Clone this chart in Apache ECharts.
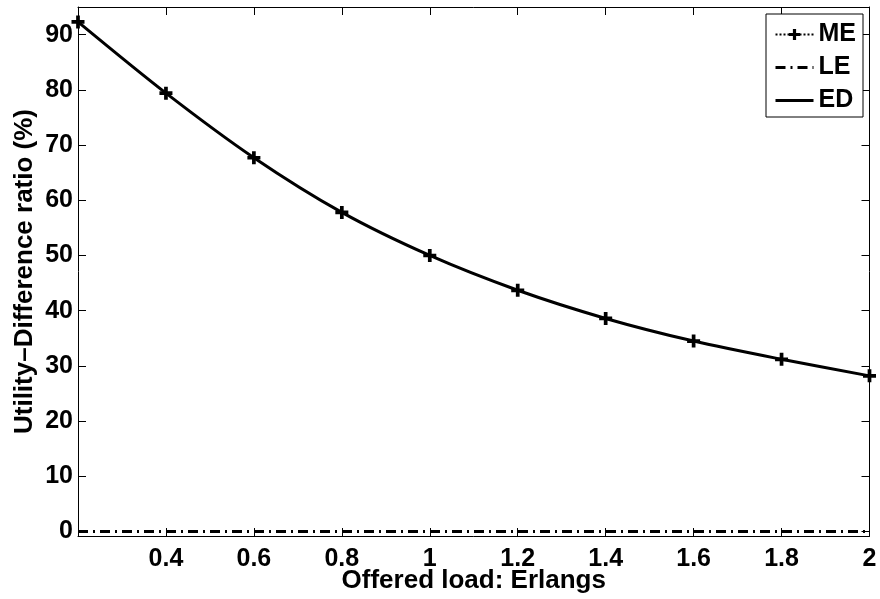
<!DOCTYPE html>
<html>
<head>
<meta charset="utf-8">
<title>Utility-Difference ratio vs offered load</title>
<script src="https://cdn.jsdelivr.net/npm/echarts@6/dist/echarts.min.js"></script>
<style>
  html, body { margin: 0; padding: 0; background: #fff; }
  #chart { width: 880px; height: 599px; }
</style>
</head>
<body>
<div id="chart"></div>
<script>
// Offered load (Erlangs)
const loads = [0.2, 0.4, 0.6, 0.8, 1.0, 1.2, 1.4, 1.6, 1.8, 2.0];
// Utility-difference ratio (%) per scheme
const meValues = [92.3, 79.4, 67.7, 57.8, 50.0, 43.7, 38.6, 34.5, 31.2, 28.2];
const leValues = [0, 0, 0, 0, 0, 0, 0, 0, 0, 0];
const edValues = [92.3, 79.4, 67.7, 57.8, 50.0, 43.7, 38.6, 34.5, 31.2, 28.2];
// Tick positions and labels
const xTickLabels = [0.4, 0.6, 0.8, 1.0, 1.2, 1.4, 1.6, 1.8, 2.0];
const xTickMarks = [0.4, 0.6, 0.8, 1.0, 1.2, 1.4, 1.6, 1.8];
const yTickLabels = [0, 10, 20, 30, 40, 50, 60, 70, 80, 90];

const FONT = "'Liberation Sans', Arial, Helvetica, sans-serif";
const plusPath = 'path://M5,0H9V5H14V9H9V14H5V9H0V5H5Z';

const pairs = ys => loads.map((x, i) => [x, ys[i]]);
const fmtX = v => String(+(+v).toFixed(1));

const chart = echarts.init(document.getElementById('chart'), null, { renderer: 'canvas' });

const boxAxis = { lineStyle: { color: '#000', width: 1 } };
const innerTick = { inside: true, length: 8, lineStyle: { color: '#000', width: 1 } };
// legend entries drawn as thick line samples only (no dot in the middle)
const lineOnly = { itemStyle: { opacity: 0, borderWidth: 0 }, lineStyle: { width: 3 } };

chart.setOption({
  animation: false,
  backgroundColor: '#fff',
  textStyle: { fontFamily: FONT },
  grid: {
    left: 78, right: 10.5, top: 7, bottom: 63,
    containLabel: false, outerBoundsMode: 'none'
  },
  legend: {
    data: [
      { name: 'ME' },
      { name: 'LE', ...lineOnly },
      { name: 'ED', ...lineOnly }
    ],
    orient: 'vertical',
    right: 17,
    top: 14,
    padding: [8, 7, 4, 8],
    itemWidth: 38,
    itemHeight: 14,
    itemGap: 8,
    backgroundColor: '#fff',
    borderColor: '#000',
    borderWidth: 1,
    textStyle: { fontFamily: FONT, fontWeight: 'bold', fontSize: 25, color: '#000' }
  },
  xAxis: [
    {
      type: 'value', min: 0.2, max: 2, position: 'bottom',
      name: 'Offered load: Erlangs', nameLocation: 'middle', nameGap: 32,
      nameMoveOverlap: false,
      nameTextStyle: { fontFamily: FONT, fontWeight: 'bold', fontSize: 26, color: '#000' },
      axisLine: { show: true, onZero: false, ...boxAxis },
      axisTick: { ...innerTick, customValues: xTickMarks },
      axisLabel: {
        customValues: xTickLabels, formatter: fmtX, margin: 11,
        fontFamily: FONT, fontWeight: 'bold', fontSize: 25, color: '#000'
      },
      splitLine: { show: false }
    },
    {
      type: 'value', min: 0.2, max: 2, position: 'top',
      axisLine: { show: true, onZero: false, ...boxAxis },
      axisTick: { ...innerTick, customValues: xTickMarks },
      axisLabel: { show: false },
      splitLine: { show: false }
    }
  ],
  yAxis: [
    {
      type: 'value', min: -0.8, max: 95, position: 'left',
      name: 'Utility\u2013Difference ratio (%)', nameLocation: 'middle', nameGap: 40,
      nameRotate: 90, nameMoveOverlap: false,
      nameTextStyle: { fontFamily: FONT, fontWeight: 'bold', fontSize: 26, color: '#000' },
      axisLine: { show: true, onZero: false, ...boxAxis },
      axisTick: { ...innerTick, customValues: yTickLabels },
      axisLabel: {
        customValues: yTickLabels, margin: 5,
        fontFamily: FONT, fontWeight: 'bold', fontSize: 25, color: '#000'
      },
      splitLine: { show: false }
    },
    {
      type: 'value', min: -0.8, max: 95, position: 'right',
      axisLine: { show: true, onZero: false, ...boxAxis },
      axisTick: { ...innerTick, customValues: yTickLabels },
      axisLabel: { show: false },
      splitLine: { show: false }
    }
  ],
  series: [
    {
      name: 'LE', type: 'line', xAxisIndex: 0, yAxisIndex: 0,
      data: pairs(leValues), symbol: 'none',
      lineStyle: { color: '#000', width: 3, type: [10, 5, 2, 5] },
      itemStyle: { color: '#000' }, z: 2
    },
    {
      name: 'ED', type: 'line', xAxisIndex: 0, yAxisIndex: 0,
      data: pairs(edValues), symbol: 'none', smooth: 0.3,
      lineStyle: { color: '#000', width: 3, type: 'solid' },
      itemStyle: { color: '#000' }, z: 3
    },
    {
      name: 'ME', type: 'line', xAxisIndex: 0, yAxisIndex: 0,
      data: pairs(meValues), symbol: plusPath, symbolSize: 13, showAllSymbol: true,
      smooth: 0.3,
      lineStyle: { color: '#000', width: 1, type: 'dotted' },
      itemStyle: { color: '#000' }, z: 4
    }
  ]
});
</script>
</body>
</html>
